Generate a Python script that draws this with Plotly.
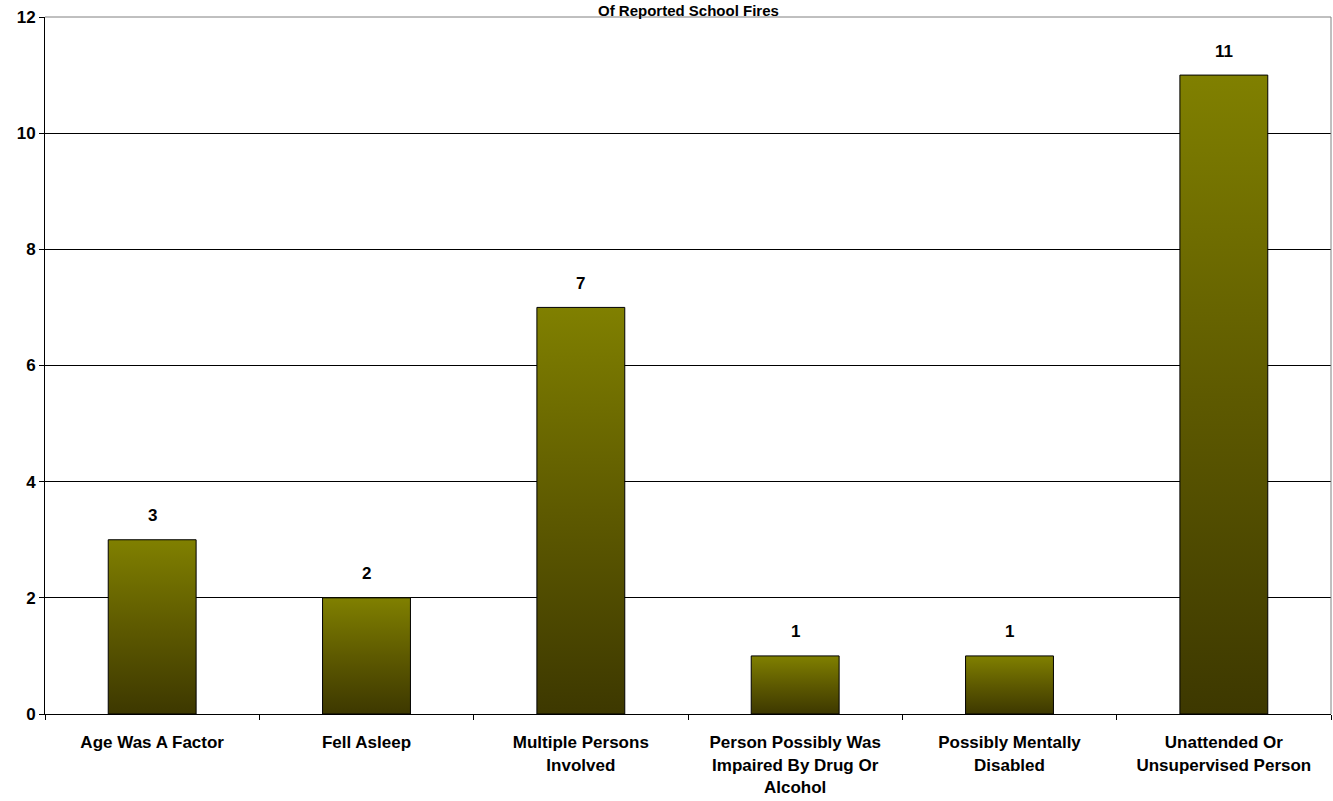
import plotly.graph_objects as go

categories = [
    "Age Was A Factor",
    "Fell Asleep",
    "Multiple Persons<br>Involved",
    "Person Possibly Was<br>Impaired By Drug Or<br>Alcohol",
    "Possibly Mentally<br>Disabled",
    "Unattended Or<br>Unsupervised Person",
]
values = [3, 2, 7, 1, 1, 11]
title_text = "Of Reported School Fires"

BAR_W = 0.41
FONT = "Liberation Sans, Arial, sans-serif"
idx = list(range(len(categories)))

fig = go.Figure()
for i, v in zip(idx, values):
    x0, x1 = i - BAR_W / 2, i + BAR_W / 2
    fig.add_trace(go.Scatter(
        x=[x0, x1, x1, x0, x0], y=[0, 0, v, v, 0],
        mode="lines", fill="toself",
        line=dict(color="#000000", width=1),
        fillgradient=dict(type="vertical",
                          colorscale=[[0, "#3d3800"], [0.5, "#5e5a00"], [1, "#808000"]]),
        hoverinfo="skip", showlegend=False,
    ))

fig.add_trace(go.Bar(x=idx, y=values, marker=dict(color="rgba(0,0,0,0)", line=dict(width=0)),
                     width=BAR_W, showlegend=False, hovertext=categories))

for i, v in zip(idx, values):
    fig.add_annotation(x=i, y=v, text=str(v), showarrow=False, yshift=24,
                       font=dict(family=FONT, size=17, color="#000000", weight="bold"))

fig.add_annotation(xref="paper", yref="paper", x=0.5, y=1, yshift=17, text=title_text,
                   showarrow=False, yanchor="top",
                   font=dict(family=FONT, size=15, color="#000000", weight="bold"))

fig.update_layout(
    width=1333, height=801,
    margin=dict(l=45, r=2, t=17, b=87),
    paper_bgcolor="#ffffff", plot_bgcolor="#ffffff",
    font=dict(family=FONT, size=17, color="#000000", weight="bold"),
    xaxis=dict(range=[-0.5, 5.5], tickmode="array", tickvals=idx, ticktext=categories,
               ticks="", showgrid=False, showline=True, linecolor="#000000", linewidth=1,
               tickfont=dict(family=FONT, size=17, weight="bold"), ticklabelstandoff=13,
               minor=dict(tickmode="linear", tick0=-0.5, dtick=1, ticks="outside",
                          ticklen=5, tickcolor="#000000", showgrid=False),
               zeroline=False, fixedrange=True, automargin=False),
    yaxis=dict(range=[0, 12], dtick=2, ticks="outside", ticklen=5, tickcolor="#000000",
               showgrid=True, gridcolor="#000000", gridwidth=1,
               showline=True, linecolor="#000000", linewidth=1, zeroline=False,
               tickfont=dict(family=FONT, size=17, weight="bold"), fixedrange=True,
               automargin=False),
    shapes=[
        dict(type="line", xref="paper", yref="paper", x0=0, x1=1, y0=1, y1=1,
             line=dict(color="#808080", width=1)),
        dict(type="line", xref="paper", yref="paper", x0=1, x1=1, y0=0, y1=1,
             line=dict(color="#808080", width=1)),
    ],
)

fig.write_html("out.html", config={"displayModeBar": False},
               post_script="document.body.style.margin='0';document.body.style.overflow='hidden';")
